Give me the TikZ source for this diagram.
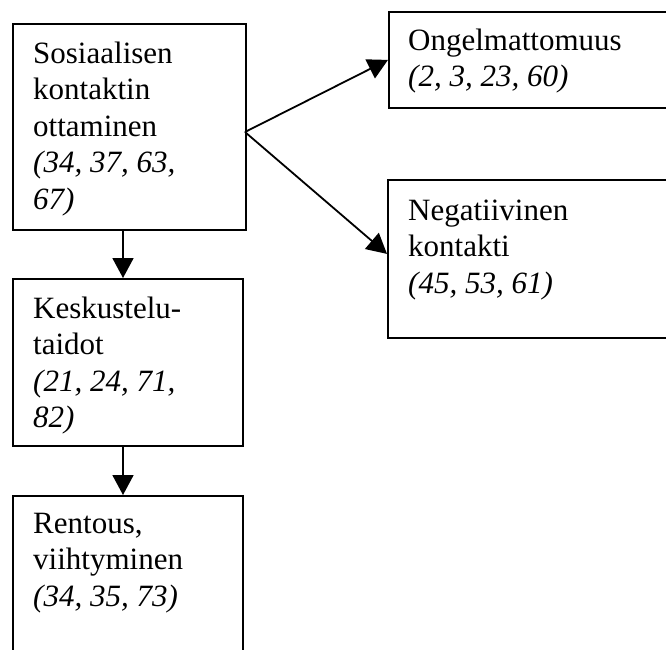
\documentclass[tikz,border=0pt]{standalone}
\usepackage{fontspec}
\setmainfont{Liberation Serif}
\usetikzlibrary{arrows.meta}
\begin{document}
\begin{tikzpicture}[x=1pt,y=-1pt,
  box/.style={draw,line width=1.8pt,rectangle,inner sep=0pt,anchor=north west},
  boxtext/.style={anchor=base west,inner sep=0pt,font=\fontsize{31}{36.5}\selectfont},
  link/.style={line width=1.8pt,-{Triangle[length=20pt,width=21pt]}}]
\useasboundingbox (0,0) rectangle (666,649);
\clip (0,0) rectangle (666,649);

% boxes (the ones on the right and at the bottom run past the page edge)
\node[box,minimum width=233pt,minimum height=206pt] (a) at (12,23) {};
\node[box,minimum width=230pt,minimum height=167pt] (b) at (12,278) {};
\node[box,minimum width=230pt,minimum height=220pt] (c) at (12,495) {};
\node[box,minimum width=350pt,minimum height=96pt]  (d) at (388,11) {};
\node[box,minimum width=350pt,minimum height=158pt] (e) at (387,179) {};

% box texts
\node[boxtext] (ta) at (33,63) {\begin{tabular}[t]{@{}l@{}}Sosiaalisen\\kontaktin\\ottaminen\\\textit{(34, 37, 63,}\\\textit{67)}\end{tabular}};
\node[boxtext] (tb) at (33,318) {\begin{tabular}[t]{@{}l@{}}Keskustelu-\\taidot\\\textit{(21, 24, 71,}\\\textit{82)}\end{tabular}};
\node[boxtext] (tc) at (33,533) {\begin{tabular}[t]{@{}l@{}}Rentous,\\viihtyminen\\\textit{(34, 35, 73)}\end{tabular}};
\node[boxtext] (td) at (408,50) {\begin{tabular}[t]{@{}l@{}}Ongelmattomuus\\\textit{(2, 3, 23, 60)}\end{tabular}};
\node[boxtext] (te) at (408,220) {\begin{tabular}[t]{@{}l@{}}Negatiivinen\\kontakti\\\textit{(45, 53, 61)}\end{tabular}};

% connectors
\coordinate (j) at (245,132);
\coordinate (col) at (123,0);
\draw[link] (j) -- (d.west);
\draw[link] (j) -- ([yshift=5pt]e.west);
\draw[link] (a.south -| col) -- (b.north -| col);
\draw[link] (b.south -| col) -- (c.north -| col);
\end{tikzpicture}
\end{document}
